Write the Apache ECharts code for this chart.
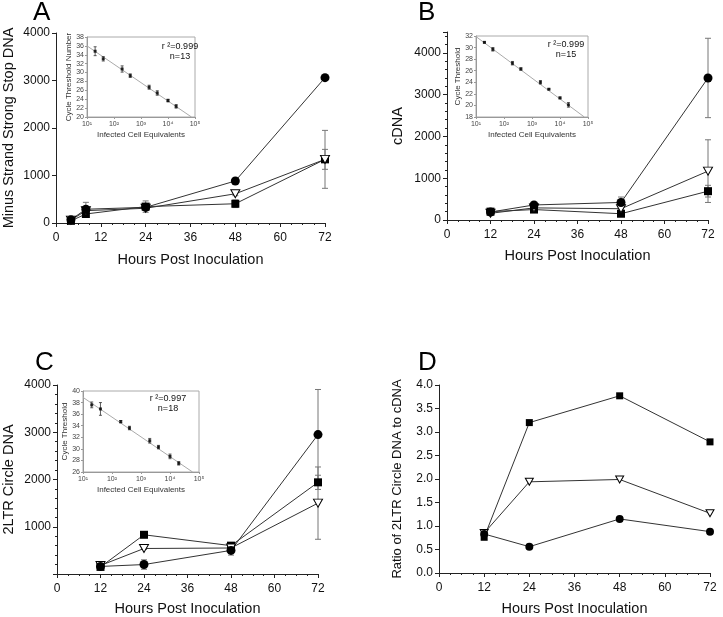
<!DOCTYPE html>
<html><head><meta charset="utf-8">
<script src="https://cdn.jsdelivr.net/npm/echarts@6/dist/echarts.min.js"></script>
<style>html,body{margin:0;padding:0;background:#fff}#c{width:723px;height:617px}</style>
</head><body><div id="c"></div>
<script>
// ---------- Data ----------
const hoursA = [4, 8, 24, 48, 72];
const A_circle = [70, 290, 330, 885, 3060];
const A_circleErr = [30, 145, 30, 20, 30];
const A_triangle = [60, 260, 310, 615, 1340];
const A_triangleErr = [20, 40, 40, 40, 210];
const A_square = [45, 190, 345, 405, 1340];
const A_squareErr = [20, 40, 120, 80, 610];

const hoursBCD = [12, 24, 48, 72];
const B_circle = [190, 360, 420, 3400];
const B_circleErr = [30, 50, 130, 950];
const B_triangle = [160, 290, 270, 1170];
const B_triangleErr = [20, 30, 30, 750];
const B_square = [200, 250, 150, 690];
const B_squareErr = [20, 30, 30, 140];

const C_circle = [160, 200, 500, 2950];
const C_circleErr = [20, 100, 100, 955];
const C_triangle = [180, 540, 550, 1500];
const C_triangleErr = [20, 20, 20, 765];
const C_square = [150, 830, 600, 1940];
const C_squareErr = [20, 20, 20, 150];

const D_circle = [0.83, 0.56, 1.15, 0.88];
const D_triangle = [0.85, 1.94, 1.99, 1.27];
const D_square = [0.76, 3.20, 3.77, 2.79];

const xTicksHours = [0, 12, 24, 36, 48, 60, 72];

// standard curve insets
const cellEquiv = [20, 40, 200, 400, 2000, 4000, 10000, 20000];
const insetA_ct = [34.8, 33.1, 30.8, 29.3, 26.7, 25.4, 23.7, 22.4];
const insetA_err = [1.0, 0.5, 0.7, 0.4, 0.45, 0.5, 0.3, 0.4];
const insetA_fit = [[10, 36.0], [74000, 20]];
const insetB_ct = [30.9, 29.7, 27.3, 26.3, 24.0, 22.8, 21.3, 20.1];
const insetB_err = [0.1, 0.3, 0.3, 0.2, 0.3, 0.1, 0.15, 0.4];
const insetB_fit = [[10, 31.9], [74000, 18]];
const insetC_ct = [37.6, 36.9, 34.7, 33.6, 31.4, 30.3, 28.7, 27.5];
const insetC_err = [0.5, 1.1, 0.2, 0.3, 0.4, 0.3, 0.4, 0.3];
const insetC_fit = [[10, 38.9], [60000, 26]];

const panelLetters = ['A', 'B', 'C', 'D'];
const insetStats = [['r ²=0.999', 'n=13'], ['r ²=0.999', 'n=15'], ['r ²=0.997', 'n=18']];

// ---------- Build ----------
const FONT = "'Liberation Sans', Arial, sans-serif";
const sup = {'1':'¹','2':'²','3':'³','4':'⁴','5':'⁵'};

function pairs(xs, ys) { return xs.map((x, i) => [x, ys[i]]); }
function errs(xs, ys, es) { return xs.map((x, i) => [x, ys[i] - es[i], ys[i] + es[i]]); }

function errRender(color, cap, lw) {
  return function (params, api) {
    const x = api.value(0), lo = api.value(1), hi = api.value(2);
    const p1 = api.coord([x, hi]), p2 = api.coord([x, lo]);
    const st = {stroke: color, lineWidth: lw};
    return {type: 'group', children: [
      {type: 'line', shape: {x1: p1[0], y1: p1[1], x2: p2[0], y2: p2[1]}, style: st},
      {type: 'line', shape: {x1: p1[0] - cap, y1: p1[1], x2: p1[0] + cap, y2: p1[1]}, style: st},
      {type: 'line', shape: {x1: p2[0] - cap, y1: p2[1], x2: p2[0] + cap, y2: p2[1]}, style: st}
    ]};
  };
}

const grids = [
  {left: 53, top: 33, width: 272, height: 190},   // A
  {left: 447, top: 32, width: 261, height: 188},  // B
  {left: 54, top: 385, width: 264, height: 189},  // C
  {left: 439, top: 385, width: 271, height: 189}, // D
  {left: 87, top: 37, width: 108, height: 80, show: true, borderColor: '#aaa', borderWidth: 1}, // inset A
  {left: 476, top: 36, width: 112, height: 81, show: true, borderColor: '#aaa', borderWidth: 1}, // inset B
  {left: 83, top: 391, width: 116, height: 81, show: true, borderColor: '#aaa', borderWidth: 1}  // inset C
];

const xAxes = [], yAxes = [];
const mainY = [
  {name: 'Minus Strand Strong Stop DNA', max: 4000, gap: 40, minor: false, fs: 14.5},
  {name: 'cDNA', max: 4500, gap: 42, minor: true, fs: 14.5, hideMax: true},
  {name: '2LTR Circle DNA', max: 4000, gap: 41, minor: true, fs: 14.5, hideMin: true},
  {name: 'Ratio of 2LTR Circle DNA to cDNA', max: 4, gap: 35, minor: false, fs: 13, interval: 0.5, fixed: true}
];
const xGaps = [29, 28, 27, 28];
for (let i = 0; i < 4; i++) {
  xAxes.push({
    gridIndex: i, type: 'value', min: xTicksHours[0], max: xTicksHours[xTicksHours.length - 1], interval: 12,
    name: 'Hours Post Inoculation', nameLocation: 'middle', nameGap: xGaps[i],
    nameTextStyle: {fontSize: 14.5, color: '#111', fontFamily: FONT},
    axisLine: {lineStyle: {color: '#222', width: 1}},
    axisTick: {show: true, inside: false, length: 4, lineStyle: {color: '#222'}},
    minorTick: {show: true, splitNumber: 4, length: 2, lineStyle: {color: '#222'}},
    splitLine: {show: false},
    axisLabel: {fontSize: 12, color: '#111', margin: 9, fontFamily: FONT}
  });
  const m = mainY[i];
  yAxes.push({
    gridIndex: i, type: 'value', min: 0, max: m.max, interval: m.interval || 1000,
    name: m.name, nameLocation: 'middle', nameGap: m.gap,
    nameTextStyle: {fontSize: m.fs, color: '#111', fontFamily: FONT},
    axisLine: {show: true, lineStyle: {color: '#222', width: 1}},
    axisTick: {show: true, inside: false, length: 4, lineStyle: {color: '#222'}},
    minorTick: {show: m.minor, splitNumber: 5, length: 2, lineStyle: {color: '#222'}},
    splitLine: {show: false},
    axisLabel: {fontSize: 12, color: '#111', margin: 6, fontFamily: FONT,
      showMaxLabel: m.hideMax ? false : null, showMinLabel: m.hideMin ? false : null,
      formatter: m.fixed ? (v => v.toFixed(1)) : (v => String(v))}
  });
}
const insetY = [
  {name: 'Cycle Threshold Number', min: 20, max: 38},
  {name: 'Cycle Threshold', min: 18, max: 32},
  {name: 'Cycle Threshold', min: 26, max: 40}
];
for (let k = 0; k < 3; k++) {
  const gi = 4 + k;
  xAxes.push({
    gridIndex: gi, type: 'log', logBase: 10, min: 10, max: 100000,
    name: 'Infected Cell Equivalents', nameLocation: 'middle', nameGap: 14,
    nameTextStyle: {fontSize: 8, color: '#333', fontFamily: FONT},
    axisLine: {lineStyle: {color: '#999', width: 1}},
    axisTick: {show: true, inside: false, length: 2, lineStyle: {color: '#999'}},
    splitLine: {show: false},
    axisLabel: {fontSize: 7, color: '#444', margin: 4, fontFamily: FONT,
      formatter: v => '10' + sup[String(Math.round(Math.log10(v)))]}
  });
  yAxes.push({
    gridIndex: gi, type: 'value', min: insetY[k].min, max: insetY[k].max, interval: 2,
    name: insetY[k].name, nameLocation: 'middle', nameGap: 14,
    nameTextStyle: {fontSize: 8, color: '#333', fontFamily: FONT},
    axisLine: {show: true, lineStyle: {color: '#999', width: 1}},
    axisTick: {show: true, inside: false, length: 2, lineStyle: {color: '#999'}},
    splitLine: {show: false},
    axisLabel: {fontSize: 7, color: '#444', margin: 3, fontFamily: FONT}
  });
}

const series = [];
function addPanel(idx, xs, sets, msize) {
  sets.forEach(s => {
    if (s.err) series.push({type: 'custom', xAxisIndex: idx, yAxisIndex: idx, z: 2,
      renderItem: errRender('#777', 3, 1), encode: {x: 0, y: [1, 2]}, data: errs(xs, s.y, s.err), silent: true});
  });
  sets.forEach(s => {
    const base = {type: 'line', xAxisIndex: idx, yAxisIndex: idx, z: 3, data: pairs(xs, s.y),
      lineStyle: {color: '#333', width: 1}, symbolSize: msize, animation: false, silent: true};
    if (s.kind === 'circle') Object.assign(base, {symbol: 'circle', itemStyle: {color: '#000'}});
    if (s.kind === 'square') Object.assign(base, {symbol: 'rect', symbolSize: msize - 1, itemStyle: {color: '#000'}});
    if (s.kind === 'triangle') Object.assign(base, {symbol: 'triangle', symbolRotate: 180, symbolSize: [msize, msize - 1],
      itemStyle: {color: '#fff', borderColor: '#000', borderWidth: 1}});
    series.push(base);
  });
}
addPanel(0, hoursA, [
  {kind: 'square', y: A_square, err: A_squareErr},
  {kind: 'triangle', y: A_triangle, err: A_triangleErr},
  {kind: 'circle', y: A_circle, err: A_circleErr}], 9);
addPanel(1, hoursBCD, [
  {kind: 'square', y: B_square, err: B_squareErr},
  {kind: 'triangle', y: B_triangle, err: B_triangleErr},
  {kind: 'circle', y: B_circle, err: B_circleErr}], 9);
addPanel(2, hoursBCD, [
  {kind: 'square', y: C_square, err: C_squareErr},
  {kind: 'triangle', y: C_triangle, err: C_triangleErr},
  {kind: 'circle', y: C_circle, err: C_circleErr}], 9);
addPanel(3, hoursBCD, [
  {kind: 'square', y: D_square},
  {kind: 'triangle', y: D_triangle},
  {kind: 'circle', y: D_circle}], 8);

const insetData = [[insetA_ct, insetA_err, insetA_fit], [insetB_ct, insetB_err, insetB_fit], [insetC_ct, insetC_err, insetC_fit]];
insetData.forEach((d, k) => {
  const idx = 4 + k;
  series.push({type: 'line', xAxisIndex: idx, yAxisIndex: idx, data: d[2], symbol: 'none',
    lineStyle: {color: '#aaa', width: 1}, z: 2, silent: true, animation: false});
  series.push({type: 'custom', xAxisIndex: idx, yAxisIndex: idx, z: 3, encode: {x: 0, y: [1, 2]},
    renderItem: errRender('#333', 1.5, 0.8), data: errs(cellEquiv, d[0], d[1]), silent: true});
  series.push({type: 'scatter', xAxisIndex: idx, yAxisIndex: idx, data: pairs(cellEquiv, d[0]), symbol: 'rect',
    symbolSize: 3, itemStyle: {color: '#000'}, z: 4, silent: true, animation: false});
});

const letterPos = [[33, 0], [418, 0], [35, 350], [418, 350]];
const statPos = [[180, 42], [566, 40], [168, 394]];
const graphic = [];
panelLetters.forEach((t, i) => graphic.push({type: 'text', left: letterPos[i][0], top: letterPos[i][1],
  style: {text: t, fontSize: 26, fill: '#000', fontFamily: FONT}}));
insetStats.forEach((s, i) => graphic.push({type: 'text', x: statPos[i][0], y: statPos[i][1],
  style: {text: s[0] + '\n' + s[1], fontSize: 9, lineHeight: 10, fill: '#111', align: 'center', fontFamily: FONT}}));

const chart = echarts.init(document.getElementById('c'), null, {renderer: 'canvas'});
chart.setOption({backgroundColor: '#fff', animation: false, grid: grids, xAxis: xAxes, yAxis: yAxes, series: series, graphic: graphic});
</script></body></html>
